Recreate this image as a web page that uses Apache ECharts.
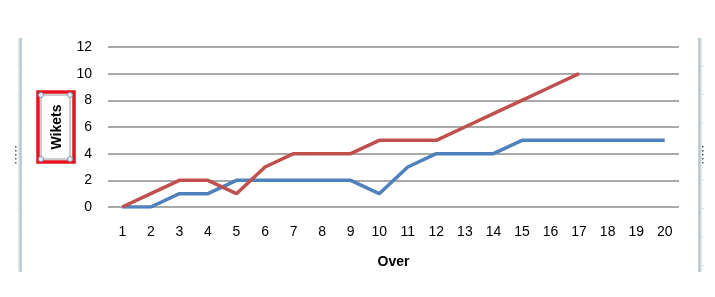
<!DOCTYPE html>
<html><head><meta charset="utf-8">
<script src="https://cdn.jsdelivr.net/npm/echarts@6/dist/echarts.min.js"></script>
<style>html,body{margin:0;padding:0;background:#fff}#c{width:715px;height:297px}</style>
</head><body><div id="c"></div>
<script>
const overs = ['1','2','3','4','5','6','7','8','9','10','11','12','13','14','15','16','17','18','19','20'];
const seriesA = [0,0,1,1,2,2,2,2,2,1,3,4,4,4,5,5,5,5,5,5];
const seriesB = [0,1,2,2,1,3,4,4,4,5,5,5,6,7,8,9,10];
const yMin = 0, yMax = 12, yStep = 2;

const font = 'Liberation Sans, Arial, sans-serif';
const chart = echarts.init(document.getElementById('c'));
const deco = [];
for (let y = 66; y < 272; y += 28.5) {
  deco.push({type:'line', shape:{x1:17,y1:y,x2:20,y2:y}, style:{stroke:'#d6e4e8',lineWidth:1}});
  deco.push({type:'line', shape:{x1:701,y1:y,x2:704,y2:y}, style:{stroke:'#d6e4e8',lineWidth:1}});
}
for (let y = 146; y <= 162; y += 4) {
  deco.push({type:'rect', shape:{x:15,y:y,width:1.5,height:1.5}, style:{fill:'#555'}});
  deco.push({type:'rect', shape:{x:702,y:y,width:1.5,height:1.5}, style:{fill:'#555'}});
}
chart.setOption({
  animation:false,
  grid:{left:108,right:36,top:47,bottom:90,containLabel:false},
  xAxis:{type:'category',data:overs,boundaryGap:true,
    name:'Over',nameLocation:'middle',nameGap:48,
    nameTextStyle:{fontFamily:font,fontSize:14,fontWeight:'bold',color:'#000'},
    axisLine:{show:false},axisTick:{show:false},
    axisLabel:{fontFamily:font,fontSize:14,color:'#000',margin:18,interval:0}},
  yAxis:{type:'value',min:yMin,max:yMax,interval:yStep,
    name:'Wikets',nameLocation:'middle',nameRotate:90,nameGap:44,
    nameTextStyle:{fontFamily:font,fontSize:14,fontWeight:'bold',color:'#000'},
    axisLine:{show:false},axisTick:{show:false},
    axisLabel:{fontFamily:font,fontSize:14,color:'#000',margin:16},
    splitLine:{lineStyle:{color:'#8c8c8c',width:1.5}}},
  series:[
    {type:'line',data:seriesA,symbol:'none',lineStyle:{color:'#4f81bd',width:3.5},z:3},
    {type:'line',data:seriesB,symbol:'none',lineStyle:{color:'#c0504d',width:3.5},z:4}
  ],
  graphic:[
    {type:'line',shape:{x1:20,y1:38,x2:20,y2:272},style:{stroke:'#c9d9dd',lineWidth:3}},
    {type:'line',shape:{x1:21,y1:38,x2:21,y2:272},style:{stroke:'#a9b4b8',lineWidth:1}},
    {type:'line',shape:{x1:700,y1:38,x2:700,y2:272},style:{stroke:'#c9d9dd',lineWidth:3}},
    {type:'line',shape:{x1:699,y1:38,x2:699,y2:272},style:{stroke:'#a9b4b8',lineWidth:1}},
    ...deco,
    {type:'rect',shape:{x:38,y:92,width:36,height:70},style:{fill:'none',stroke:'#e3141f',lineWidth:3.5},z:10},
    {type:'rect',shape:{x:41,y:95,width:29,height:64},style:{fill:'none',stroke:'#9a9a9a',lineWidth:1},z:10},
    {type:'circle',shape:{cx:41,cy:95,r:2.5},style:{fill:'#e6eef8',stroke:'#7f9cc4',lineWidth:1},z:11},
    {type:'circle',shape:{cx:70,cy:95,r:2.5},style:{fill:'#e6eef8',stroke:'#7f9cc4',lineWidth:1},z:11},
    {type:'circle',shape:{cx:41,cy:159,r:2.5},style:{fill:'#e6eef8',stroke:'#7f9cc4',lineWidth:1},z:11},
    {type:'circle',shape:{cx:70,cy:159,r:2.5},style:{fill:'#e6eef8',stroke:'#7f9cc4',lineWidth:1},z:11}
  ]
});
</script></body></html>
